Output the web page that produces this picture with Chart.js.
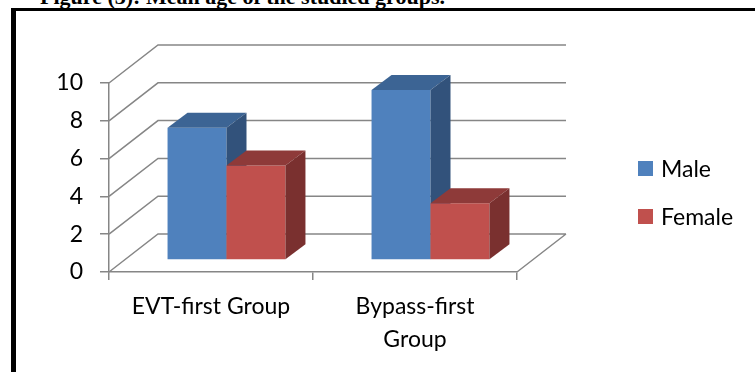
<!DOCTYPE html>
<html>
<head>
<meta charset="utf-8">
<script src="https://cdn.jsdelivr.net/npm/chart.js@4.4.1/dist/chart.umd.min.js"></script>
<style>
  html, body { margin: 0; padding: 0; background: #fff; width: 755px; height: 372px; overflow: hidden; position: relative; }
  #caption { position: absolute; left: 40px; top: -14px; font: bold 22px/22px "Liberation Serif", "Times New Roman", serif; color: #000; white-space: nowrap; }
  #frame { position: absolute; left: 11px; top: 8px; width: 800px; height: 400px; border-top: 3px solid #000; border-left: 5px solid #000; }
  #chart { position: absolute; left: 0; top: 0; }
</style>
</head>
<body>
<div id="caption">Figure (3): Mean age of the studied groups.</div>
<div id="frame"></div>
<canvas id="chart" width="755" height="372"></canvas>
<script>
// Groups on the category axis (second label wraps onto two lines)
const groupLabels = [['EVT-first Group'], ['Bypass-first', 'Group']];
const seriesNames = ['Male', 'Female'];
const maleAges = [7, 9];
const femaleAges = [5, 3];
const ageTicks = [0, 2, 4, 6, 8, 10];

// Perspective vectors for the pseudo-3D box and the columns
const WALL = { dx: 49, dy: -38 };        // depth of walls and floor
const BAR_SHIFT = { dx: 15.5, dy: -12 };  // columns stand part way into the floor
const BAR_DEPTH = { dx: 20, dy: -15 };    // thickness of each column
const GRID = '#868686';
const FONT = 'Lato';

Chart.defaults.font.family = FONT;
Chart.defaults.color = '#000';

function face(ctx, pts, color) {
  ctx.fillStyle = color;
  ctx.beginPath();
  ctx.moveTo(pts[0][0], pts[0][1]);
  for (let i = 1; i < pts.length; i++) ctx.lineTo(pts[i][0], pts[i][1]);
  ctx.closePath();
  ctx.fill();
}

// Back wall, side wall and floor edges, then the columns drawn
// left-to-right / first-to-last series so nearer faces overlap correctly
const box3d = {
  id: 'box3d',
  beforeDatasetsDraw(chart) {
    const { ctx, chartArea: a, scales: { y } } = chart;
    ctx.save();
    ctx.strokeStyle = GRID;
    ctx.lineWidth = 1.5;
    ctx.beginPath();
    y.ticks.forEach(t => {
      const py = y.getPixelForValue(t.value);
      ctx.moveTo(a.left, py);
      ctx.lineTo(a.left + WALL.dx, py + WALL.dy);
      ctx.lineTo(a.right + WALL.dx, py + WALL.dy);
    });
    ctx.moveTo(a.right, a.bottom);
    ctx.lineTo(a.right + WALL.dx, a.bottom + WALL.dy);
    ctx.stroke();
    ctx.restore();
  },
  beforeDatasetDraw() {
    return false; // columns are painted in afterDatasetsDraw in stacking order
  },
  afterDatasetsDraw(chart) {
    const ctx = chart.ctx;
    const count = chart.data.datasets.length;
    const nCats = chart.data.labels.length;
    for (let c = 0; c < nCats; c++) {
      for (let d = 0; d < count; d++) {
        const ds = chart.data.datasets[d];
        const bar = chart.getDatasetMeta(d).data[c];
        if (!bar) continue;
        // front face via the library's own bar element
        ctx.save();
        ctx.translate(BAR_SHIFT.dx, BAR_SHIFT.dy);
        bar.draw(ctx);
        ctx.restore();
        const { x, y, base, width } = bar.getProps(['x', 'y', 'base', 'width'], true);
        const l = x - width / 2 + BAR_SHIFT.dx;
        const r = x + width / 2 + BAR_SHIFT.dx;
        const t = y + BAR_SHIFT.dy;
        const b = base + BAR_SHIFT.dy;
        const bx = BAR_DEPTH.dx, by = BAR_DEPTH.dy;
        ctx.save();
        face(ctx, [[l, t], [l + bx, t + by], [r + bx, t + by], [r, t]], ds.topColor);
        face(ctx, [[r, t], [r + bx, t + by], [r + bx, b + by], [r, b]], ds.sideColor);
        ctx.restore();
      }
    }
  }
};

// Legend column to the right of the box
const sideLegend = {
  id: 'sideLegend',
  afterDraw(chart) {
    const { ctx } = chart;
    const left = 638, top = 161, size = 15, gap = 48;
    ctx.save();
    ctx.font = '23px ' + FONT;
    ctx.textBaseline = 'middle';
    ctx.textAlign = 'left';
    chart.data.datasets.forEach((ds, i) => {
      const y0 = top + i * gap;
      ctx.fillStyle = ds.backgroundColor;
      ctx.fillRect(left, y0, size, size);
      ctx.fillStyle = '#000';
      ctx.fillText(ds.label, left + size + 8, y0 + size / 2 + 1);
    });
    ctx.restore();
  }
};

new Chart(document.getElementById('chart'), {
  type: 'bar',
  data: {
    labels: groupLabels,
    datasets: [
      { label: seriesNames[0], data: maleAges, backgroundColor: '#4f81bd', topColor: '#3c6494', sideColor: '#32527b' },
      { label: seriesNames[1], data: femaleAges, backgroundColor: '#c0504d', topColor: '#8e3a39', sideColor: '#7a302f' }
    ]
  },
  options: {
    responsive: false,
    animation: false,
    events: [],
    layout: { padding: { left: 0, top: 83, right: 238, bottom: 0 } },
    datasets: { bar: { categoryPercentage: 0.578, barPercentage: 1.0, borderWidth: 0 } },
    plugins: { legend: { display: false }, tooltip: { enabled: false } },
    scales: {
      x: {
        grid: { drawOnChartArea: false, drawTicks: true, tickLength: 8, color: GRID, lineWidth: 1.5 },
        border: { display: true, color: GRID, width: 1.5 },
        ticks: { padding: 10, maxRotation: 0, minRotation: 0, font: { size: 23, lineHeight: 1.43 }, color: '#000' },
        afterFit(scale) { scale.height = 100; }
      },
      y: {
        min: 0, max: 10,
        afterBuildTicks(scale) { scale.ticks = ageTicks.map(v => ({ value: v })); },
        grid: { drawOnChartArea: false, drawTicks: true, tickLength: 9, color: GRID, lineWidth: 1.5 },
        border: { display: true, color: GRID, width: 1.5 },
        ticks: { padding: 17, font: { size: 23 }, color: '#000' },
        afterFit(scale) { scale.width = 109; }
      }
    }
  },
  plugins: [box3d, sideLegend]
});
</script>
</body>
</html>
